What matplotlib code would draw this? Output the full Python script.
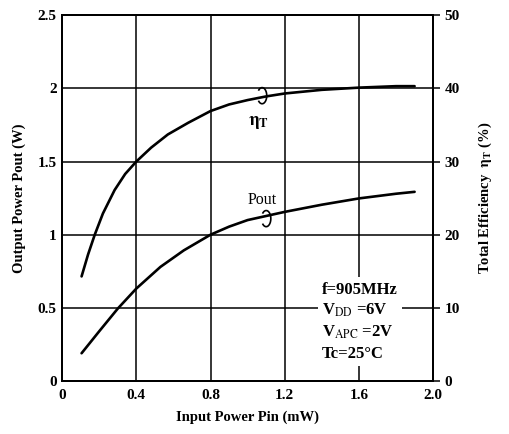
import matplotlib
matplotlib.use("Agg")
import matplotlib.pyplot as plt
from matplotlib.patches import Arc

pin = [0.105, 0.14, 0.176, 0.22, 0.283, 0.34, 0.4, 0.48, 0.57, 0.68, 0.8, 0.9,
       1.0, 1.1, 1.2, 1.4, 1.6, 1.8, 1.9]
eff = [14.3, 17.3, 20.0, 22.9, 26.1, 28.3, 30.0, 31.9, 33.7, 35.3, 36.9, 37.8,
       38.4, 38.9, 39.3, 39.8, 40.1, 40.3, 40.3]
pin_p = [0.105, 0.2, 0.3, 0.4, 0.53, 0.656, 0.8, 0.9, 1.0, 1.2, 1.4, 1.6, 1.8, 1.9]
pout = [0.19, 0.34, 0.495, 0.632, 0.78, 0.893, 1.0, 1.055, 1.10, 1.156, 1.205, 1.248, 1.28, 1.293]

xticks = [0, 0.4, 0.8, 1.2, 1.6, 2.0]
xticklabels = ["0", "0.4", "0.8", "1.2", "1.6", "2.0"]
yticks = [0, 0.5, 1, 1.5, 2, 2.5]
yticklabels = ["0", "0.5", "1", "1.5", "2", "2.5"]
y2ticks = [0, 10, 20, 30, 40, 50]

conditions = ["f=905MHz", r"V$_{\mathrm{DD}}$ =6V", r"V$_{\mathrm{APC}}$ =2V", "Tc=25°C"]

plt.rcParams["font.family"] = ["Liberation Serif", "DejaVu Serif"]
plt.rcParams["mathtext.fontset"] = "stix"

fig = plt.figure(figsize=(5.09, 4.34), dpi=100)
ax = fig.add_axes([0.122, 0.122, 0.729, 0.843])
ax2 = ax.twinx()

lw_grid = 1.1
ax.set_xlim(0, 2.0)
ax.set_ylim(0, 2.5)
ax2.set_ylim(0, 50)
ax.set_xticks(xticks)
ax.set_xticklabels(xticklabels)
ax.set_yticks(yticks)
ax.set_yticklabels(yticklabels)
ax2.set_yticks(y2ticks)

for x in xticks[1:-1]:
    ax.axvline(x, color="black", lw=lw_grid, zorder=1)
for y in yticks[1:-1]:
    ax.axhline(y, color="black", lw=lw_grid, zorder=1)

for a in (ax, ax2):
    for s in a.spines.values():
        s.set_linewidth(1.4)
        s.set_color("black")
    a.tick_params(labelsize=11, width=1.1, length=4, colors="black")
    for lab in a.get_xticklabels() + a.get_yticklabels():
        lab.set_fontweight("bold")

ax.tick_params(axis="x", length=0, pad=6)
ax.tick_params(axis="y", length=0, pad=4)
ax2.tick_params(axis="y", direction="out", length=5, pad=3)

# curves (efficiency drawn on the right axis)
ax2.plot(pin, eff, color="black", lw=1.9, zorder=3, solid_capstyle="round")
ax.plot(pin_p, pout, color="black", lw=1.9, zorder=3, solid_capstyle="round")

# curve tags with little loops
ax.add_patch(Arc((1.078, 1.95), 0.05, 0.11, theta1=-120, theta2=120, color="black", lw=1.2, zorder=4))
ax.text(1.06, 1.77, r"$\mathbf{\eta_{T}}$", fontsize=13, ha="center", va="center")
ax.add_patch(Arc((1.10, 1.11), 0.05, 0.11, theta1=-120, theta2=120, color="black", lw=1.2, zorder=4))
ax.text(1.08, 1.24, "Pout", fontsize=11.5, ha="center", va="center")

# operating conditions box
ax.text(1.40, 0.68, "\n".join(conditions), fontsize=12, ha="left", va="top",
        linespacing=1.35, fontweight="bold",
        bbox=dict(facecolor="white", edgecolor="none", pad=3), zorder=5)

ax.set_xlabel("Input Power Pin (mW)", fontsize=10.5, fontweight="bold", labelpad=6)
ax.set_ylabel("Output Power Pout (W)", fontsize=10.5, fontweight="bold", labelpad=8)
ax2.set_ylabel(r"Total Efficiency  $\mathbf{\eta_{T}}$ (%)", fontsize=10.5, fontweight="bold", labelpad=12)

fig.savefig("out.png", dpi=100)
